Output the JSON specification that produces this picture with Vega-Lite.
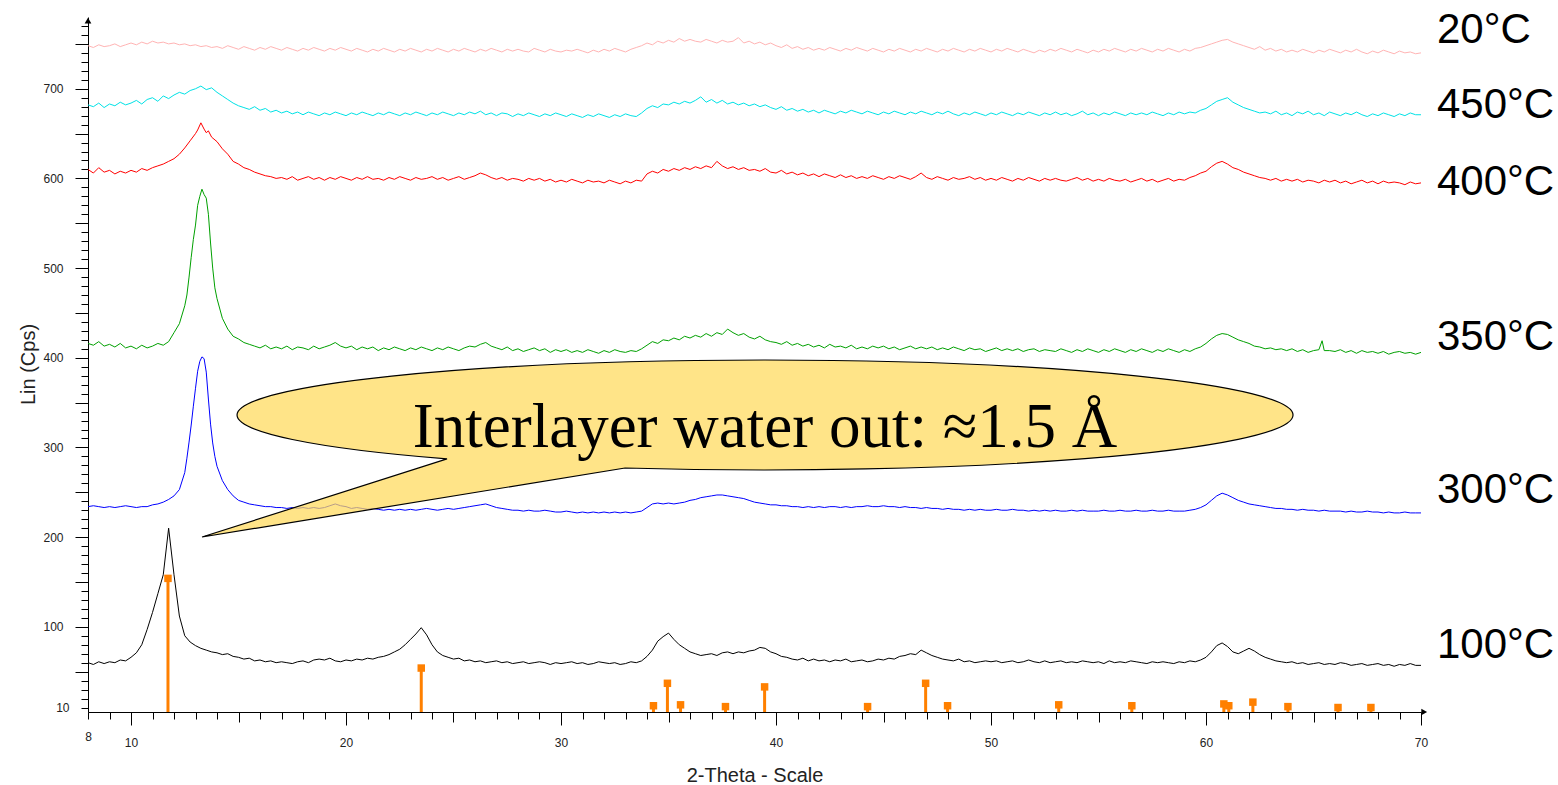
{
  "$schema": "https://vega.github.io/schema/vega-lite/v6.json",
  "width": 1333,
  "height": 695,
  "autosize": {"type": "none"},
  "padding": {"left": 88, "top": 17, "right": 137, "bottom": 73},
  "background": "white",
  "config": {"view": {"stroke": null}},
  "datasets": {
    "d20": [{"x":8,"y":748},{"x":8.25,"y":746},{"x":8.5,"y":749},{"x":8.75,"y":747},{"x":9,"y":748},{"x":9.25,"y":750},{"x":9.5,"y":747},{"x":9.75,"y":749},{"x":10,"y":751},{"x":10.25,"y":749},{"x":10.5,"y":752},{"x":10.75,"y":750},{"x":11,"y":753},{"x":11.25,"y":751},{"x":11.5,"y":752},{"x":11.75,"y":750},{"x":12,"y":751},{"x":12.25,"y":749},{"x":12.5,"y":750},{"x":12.75,"y":748},{"x":13,"y":749},{"x":13.25,"y":747},{"x":13.5,"y":748},{"x":13.75,"y":746},{"x":14,"y":747},{"x":14.25,"y":745},{"x":14.5,"y":748},{"x":14.75,"y":746},{"x":15,"y":744},{"x":15.25,"y":747},{"x":15.5,"y":745},{"x":15.75,"y":743},{"x":16,"y":746},{"x":16.25,"y":744},{"x":16.5,"y":747},{"x":16.75,"y":745},{"x":17,"y":743},{"x":17.25,"y":746},{"x":17.5,"y":744},{"x":17.75,"y":742},{"x":18,"y":745},{"x":18.25,"y":743},{"x":18.5,"y":746},{"x":18.75,"y":744},{"x":19,"y":742},{"x":19.25,"y":745},{"x":19.5,"y":743},{"x":19.75,"y":746},{"x":20,"y":744},{"x":20.25,"y":742},{"x":20.5,"y":745},{"x":20.75,"y":743},{"x":21,"y":741},{"x":21.25,"y":744},{"x":21.5,"y":742},{"x":21.75,"y":745},{"x":22,"y":743},{"x":22.25,"y":741},{"x":22.5,"y":744},{"x":22.75,"y":742},{"x":23,"y":745},{"x":23.25,"y":743},{"x":23.5,"y":741},{"x":23.75,"y":744},{"x":24,"y":742},{"x":24.25,"y":745},{"x":24.5,"y":743},{"x":24.75,"y":741},{"x":25,"y":744},{"x":25.25,"y":742},{"x":25.5,"y":745},{"x":25.75,"y":743},{"x":26,"y":741},{"x":26.25,"y":744},{"x":26.5,"y":742},{"x":26.75,"y":745},{"x":27,"y":743},{"x":27.25,"y":741},{"x":27.5,"y":744},{"x":27.75,"y":742},{"x":28,"y":744},{"x":28.25,"y":742},{"x":28.5,"y":741},{"x":28.75,"y":745},{"x":29,"y":743},{"x":29.25,"y":741},{"x":29.5,"y":744},{"x":29.75,"y":742},{"x":30,"y":741},{"x":30.25,"y":743},{"x":30.5,"y":742},{"x":30.75,"y":744},{"x":31,"y":742},{"x":31.25,"y":740},{"x":31.5,"y":743},{"x":31.75,"y":741},{"x":32,"y":744},{"x":32.25,"y":742},{"x":32.5,"y":745},{"x":32.75,"y":743},{"x":33,"y":741},{"x":33.25,"y":744},{"x":33.5,"y":746},{"x":33.75,"y":748},{"x":34,"y":751},{"x":34.25,"y":749},{"x":34.5,"y":753},{"x":34.75,"y":751},{"x":35,"y":754},{"x":35.25,"y":752},{"x":35.5,"y":756},{"x":35.75,"y":753},{"x":36,"y":755},{"x":36.25,"y":753},{"x":36.5,"y":752},{"x":36.75,"y":755},{"x":37,"y":753},{"x":37.25,"y":751},{"x":37.5,"y":754},{"x":37.75,"y":752},{"x":38,"y":753},{"x":38.25,"y":757},{"x":38.5,"y":751},{"x":38.75,"y":753},{"x":39,"y":750},{"x":39.25,"y":752},{"x":39.5,"y":749},{"x":39.75,"y":751},{"x":40,"y":748},{"x":40.25,"y":746},{"x":40.5,"y":749},{"x":40.75,"y":745},{"x":41,"y":747},{"x":41.25,"y":744},{"x":41.5,"y":746},{"x":41.75,"y":743},{"x":42,"y":745},{"x":42.25,"y":743},{"x":42.5,"y":746},{"x":42.75,"y":744},{"x":43,"y":742},{"x":43.25,"y":745},{"x":43.5,"y":743},{"x":43.75,"y":746},{"x":44,"y":744},{"x":44.25,"y":742},{"x":44.5,"y":745},{"x":44.75,"y":743},{"x":45,"y":741},{"x":45.25,"y":744},{"x":45.5,"y":742},{"x":45.75,"y":745},{"x":46,"y":743},{"x":46.25,"y":741},{"x":46.5,"y":744},{"x":46.75,"y":742},{"x":47,"y":745},{"x":47.25,"y":743},{"x":47.5,"y":741},{"x":47.75,"y":744},{"x":48,"y":742},{"x":48.25,"y":745},{"x":48.5,"y":743},{"x":48.75,"y":741},{"x":49,"y":744},{"x":49.25,"y":742},{"x":49.5,"y":745},{"x":49.75,"y":743},{"x":50,"y":741},{"x":50.25,"y":744},{"x":50.5,"y":742},{"x":50.75,"y":745},{"x":51,"y":743},{"x":51.25,"y":741},{"x":51.5,"y":744},{"x":51.75,"y":742},{"x":52,"y":740},{"x":52.25,"y":743},{"x":52.5,"y":741},{"x":52.75,"y":744},{"x":53,"y":742},{"x":53.25,"y":745},{"x":53.5,"y":743},{"x":53.75,"y":741},{"x":54,"y":744},{"x":54.25,"y":742},{"x":54.5,"y":740},{"x":54.75,"y":743},{"x":55,"y":741},{"x":55.25,"y":744},{"x":55.5,"y":742},{"x":55.75,"y":745},{"x":56,"y":743},{"x":56.25,"y":741},{"x":56.5,"y":744},{"x":56.75,"y":742},{"x":57,"y":745},{"x":57.25,"y":743},{"x":57.5,"y":741},{"x":57.75,"y":744},{"x":58,"y":742},{"x":58.25,"y":745},{"x":58.5,"y":743},{"x":58.75,"y":741},{"x":59,"y":744},{"x":59.25,"y":742},{"x":59.5,"y":745},{"x":59.75,"y":746},{"x":60,"y":748},{"x":60.25,"y":750},{"x":60.5,"y":752},{"x":60.75,"y":754},{"x":61,"y":755},{"x":61.25,"y":752},{"x":61.5,"y":750},{"x":61.75,"y":748},{"x":62,"y":746},{"x":62.25,"y":744},{"x":62.5,"y":747},{"x":62.75,"y":743},{"x":63,"y":745},{"x":63.25,"y":742},{"x":63.5,"y":744},{"x":63.75,"y":741},{"x":64,"y":743},{"x":64.25,"y":741},{"x":64.5,"y":744},{"x":64.75,"y":742},{"x":65,"y":740},{"x":65.25,"y":743},{"x":65.5,"y":741},{"x":65.75,"y":744},{"x":66,"y":742},{"x":66.25,"y":740},{"x":66.5,"y":743},{"x":66.75,"y":741},{"x":67,"y":744},{"x":67.25,"y":741},{"x":67.5,"y":739},{"x":67.75,"y":742},{"x":68,"y":740},{"x":68.25,"y":743},{"x":68.5,"y":741},{"x":68.75,"y":739},{"x":69,"y":742},{"x":69.25,"y":740},{"x":69.5,"y":741},{"x":69.75,"y":739},{"x":70,"y":740}],
    "d450": [{"x":8,"y":682},{"x":8.25,"y":680},{"x":8.5,"y":684},{"x":8.75,"y":679},{"x":9,"y":683},{"x":9.25,"y":681},{"x":9.5,"y":685},{"x":9.75,"y":682},{"x":10,"y":684},{"x":10.25,"y":687},{"x":10.5,"y":683},{"x":10.75,"y":688},{"x":11,"y":690},{"x":11.25,"y":686},{"x":11.5,"y":692},{"x":11.75,"y":689},{"x":12,"y":693},{"x":12.25,"y":696},{"x":12.5,"y":694},{"x":12.75,"y":698},{"x":13,"y":700},{"x":13.25,"y":703},{"x":13.5,"y":699},{"x":13.75,"y":701},{"x":14,"y":696},{"x":14.25,"y":692},{"x":14.5,"y":688},{"x":14.75,"y":684},{"x":15,"y":681},{"x":15.25,"y":679},{"x":15.5,"y":677},{"x":15.75,"y":680},{"x":16,"y":676},{"x":16.25,"y":678},{"x":16.5,"y":674},{"x":16.75,"y":676},{"x":17,"y":673},{"x":17.25,"y":675},{"x":17.5,"y":672},{"x":17.75,"y":674},{"x":18,"y":671},{"x":18.25,"y":674},{"x":18.5,"y":672},{"x":18.75,"y":670},{"x":19,"y":673},{"x":19.25,"y":671},{"x":19.5,"y":674},{"x":19.75,"y":672},{"x":20,"y":670},{"x":20.25,"y":673},{"x":20.5,"y":671},{"x":20.75,"y":674},{"x":21,"y":672},{"x":21.25,"y":670},{"x":21.5,"y":673},{"x":21.75,"y":671},{"x":22,"y":674},{"x":22.25,"y":672},{"x":22.5,"y":670},{"x":22.75,"y":673},{"x":23,"y":671},{"x":23.25,"y":674},{"x":23.5,"y":672},{"x":23.75,"y":670},{"x":24,"y":673},{"x":24.25,"y":671},{"x":24.5,"y":674},{"x":24.75,"y":672},{"x":25,"y":670},{"x":25.25,"y":673},{"x":25.5,"y":671},{"x":25.75,"y":674},{"x":26,"y":672},{"x":26.25,"y":675},{"x":26.5,"y":671},{"x":26.75,"y":673},{"x":27,"y":670},{"x":27.25,"y":673},{"x":27.5,"y":672},{"x":27.75,"y":669},{"x":28,"y":672},{"x":28.25,"y":670},{"x":28.5,"y":673},{"x":28.75,"y":671},{"x":29,"y":669},{"x":29.25,"y":672},{"x":29.5,"y":670},{"x":29.75,"y":673},{"x":30,"y":671},{"x":30.25,"y":669},{"x":30.5,"y":672},{"x":30.75,"y":670},{"x":31,"y":668},{"x":31.25,"y":671},{"x":31.5,"y":669},{"x":31.75,"y":672},{"x":32,"y":670},{"x":32.25,"y":668},{"x":32.5,"y":671},{"x":32.75,"y":669},{"x":33,"y":672},{"x":33.25,"y":670},{"x":33.5,"y":669},{"x":33.75,"y":673},{"x":34,"y":678},{"x":34.25,"y":681},{"x":34.5,"y":679},{"x":34.75,"y":683},{"x":35,"y":682},{"x":35.25,"y":685},{"x":35.5,"y":683},{"x":35.75,"y":686},{"x":36,"y":684},{"x":36.25,"y":687},{"x":36.5,"y":691},{"x":36.75,"y":685},{"x":37,"y":688},{"x":37.25,"y":684},{"x":37.5,"y":687},{"x":37.75,"y":683},{"x":38,"y":685},{"x":38.25,"y":682},{"x":38.5,"y":684},{"x":38.75,"y":681},{"x":39,"y":683},{"x":39.25,"y":680},{"x":39.5,"y":682},{"x":39.75,"y":679},{"x":40,"y":677},{"x":40.25,"y":680},{"x":40.5,"y":676},{"x":40.75,"y":678},{"x":41,"y":675},{"x":41.25,"y":677},{"x":41.5,"y":674},{"x":41.75,"y":676},{"x":42,"y":673},{"x":42.25,"y":676},{"x":42.5,"y":674},{"x":42.75,"y":672},{"x":43,"y":675},{"x":43.25,"y":673},{"x":43.5,"y":676},{"x":43.75,"y":674},{"x":44,"y":672},{"x":44.25,"y":675},{"x":44.5,"y":673},{"x":44.75,"y":671},{"x":45,"y":674},{"x":45.25,"y":672},{"x":45.5,"y":675},{"x":45.75,"y":673},{"x":46,"y":671},{"x":46.25,"y":674},{"x":46.5,"y":672},{"x":46.75,"y":675},{"x":47,"y":673},{"x":47.25,"y":671},{"x":47.5,"y":674},{"x":47.75,"y":672},{"x":48,"y":675},{"x":48.25,"y":672},{"x":48.5,"y":670},{"x":48.75,"y":673},{"x":49,"y":671},{"x":49.25,"y":674},{"x":49.5,"y":672},{"x":49.75,"y":670},{"x":50,"y":673},{"x":50.25,"y":671},{"x":50.5,"y":674},{"x":50.75,"y":672},{"x":51,"y":670},{"x":51.25,"y":673},{"x":51.5,"y":671},{"x":51.75,"y":674},{"x":52,"y":672},{"x":52.25,"y":670},{"x":52.5,"y":673},{"x":52.75,"y":671},{"x":53,"y":674},{"x":53.25,"y":671},{"x":53.5,"y":673},{"x":53.75,"y":670},{"x":54,"y":672},{"x":54.25,"y":675},{"x":54.5,"y":671},{"x":54.75,"y":673},{"x":55,"y":670},{"x":55.25,"y":673},{"x":55.5,"y":671},{"x":55.75,"y":674},{"x":56,"y":672},{"x":56.25,"y":670},{"x":56.5,"y":673},{"x":56.75,"y":671},{"x":57,"y":673},{"x":57.25,"y":671},{"x":57.5,"y":674},{"x":57.75,"y":672},{"x":58,"y":670},{"x":58.25,"y":673},{"x":58.5,"y":671},{"x":58.75,"y":674},{"x":59,"y":672},{"x":59.25,"y":674},{"x":59.5,"y":673},{"x":59.75,"y":676},{"x":60,"y":678},{"x":60.25,"y":682},{"x":60.5,"y":686},{"x":60.75,"y":688},{"x":61,"y":690},{"x":61.25,"y":685},{"x":61.5,"y":682},{"x":61.75,"y":679},{"x":62,"y":677},{"x":62.25,"y":675},{"x":62.5,"y":673},{"x":62.75,"y":674},{"x":63,"y":672},{"x":63.25,"y":675},{"x":63.5,"y":671},{"x":63.75,"y":673},{"x":64,"y":670},{"x":64.25,"y":674},{"x":64.5,"y":672},{"x":64.75,"y":675},{"x":65,"y":671},{"x":65.25,"y":673},{"x":65.5,"y":670},{"x":65.75,"y":674},{"x":66,"y":672},{"x":66.25,"y":670},{"x":66.5,"y":673},{"x":66.75,"y":671},{"x":67,"y":674},{"x":67.25,"y":671},{"x":67.5,"y":669},{"x":67.75,"y":672},{"x":68,"y":670},{"x":68.25,"y":673},{"x":68.5,"y":671},{"x":68.75,"y":669},{"x":69,"y":672},{"x":69.25,"y":670},{"x":69.5,"y":673},{"x":69.75,"y":671},{"x":70,"y":671}],
    "d400": [{"x":8,"y":610},{"x":8.25,"y":606},{"x":8.5,"y":612},{"x":8.75,"y":607},{"x":9,"y":609},{"x":9.25,"y":605},{"x":9.5,"y":608},{"x":9.75,"y":606},{"x":10,"y":609},{"x":10.25,"y":607},{"x":10.5,"y":611},{"x":10.75,"y":609},{"x":11,"y":612},{"x":11.25,"y":614},{"x":11.5,"y":616},{"x":11.75,"y":619},{"x":12,"y":622},{"x":12.25,"y":627},{"x":12.5,"y":634},{"x":12.75,"y":642},{"x":13,"y":650},{"x":13.1,"y":654},{"x":13.25,"y":662},{"x":13.4,"y":655},{"x":13.5,"y":651},{"x":13.6,"y":653},{"x":13.75,"y":646},{"x":14,"y":641},{"x":14.25,"y":633},{"x":14.5,"y":627},{"x":14.75,"y":619},{"x":15,"y":616},{"x":15.25,"y":612},{"x":15.5,"y":610},{"x":15.75,"y":607},{"x":16,"y":605},{"x":16.25,"y":603},{"x":16.5,"y":602},{"x":16.75,"y":600},{"x":17,"y":601},{"x":17.25,"y":599},{"x":17.5,"y":602},{"x":17.75,"y":598},{"x":18,"y":600},{"x":18.25,"y":602},{"x":18.5,"y":599},{"x":18.75,"y":601},{"x":19,"y":598},{"x":19.25,"y":601},{"x":19.5,"y":599},{"x":19.75,"y":602},{"x":20,"y":600},{"x":20.25,"y":598},{"x":20.5,"y":601},{"x":20.75,"y":599},{"x":21,"y":602},{"x":21.25,"y":599},{"x":21.5,"y":600},{"x":21.75,"y":598},{"x":22,"y":601},{"x":22.25,"y":599},{"x":22.5,"y":602},{"x":22.75,"y":600},{"x":23,"y":598},{"x":23.25,"y":601},{"x":23.5,"y":599},{"x":23.75,"y":600},{"x":24,"y":602},{"x":24.25,"y":599},{"x":24.5,"y":601},{"x":24.75,"y":598},{"x":25,"y":600},{"x":25.25,"y":602},{"x":25.5,"y":599},{"x":25.75,"y":601},{"x":26,"y":603},{"x":26.25,"y":606},{"x":26.5,"y":604},{"x":26.75,"y":601},{"x":27,"y":599},{"x":27.25,"y":601},{"x":27.5,"y":598},{"x":27.75,"y":600},{"x":28,"y":599},{"x":28.25,"y":597},{"x":28.5,"y":600},{"x":28.75,"y":598},{"x":29,"y":600},{"x":29.25,"y":597},{"x":29.5,"y":599},{"x":29.75,"y":596},{"x":30,"y":598},{"x":30.25,"y":596},{"x":30.5,"y":599},{"x":30.75,"y":597},{"x":31,"y":595},{"x":31.25,"y":598},{"x":31.5,"y":596},{"x":31.75,"y":597},{"x":32,"y":595},{"x":32.25,"y":598},{"x":32.5,"y":596},{"x":32.75,"y":594},{"x":33,"y":597},{"x":33.25,"y":595},{"x":33.5,"y":598},{"x":33.75,"y":597},{"x":34,"y":605},{"x":34.25,"y":608},{"x":34.5,"y":606},{"x":34.75,"y":610},{"x":35,"y":608},{"x":35.25,"y":611},{"x":35.5,"y":609},{"x":35.75,"y":612},{"x":36,"y":610},{"x":36.25,"y":613},{"x":36.5,"y":611},{"x":36.75,"y":614},{"x":37,"y":612},{"x":37.25,"y":619},{"x":37.5,"y":614},{"x":37.75,"y":611},{"x":38,"y":613},{"x":38.25,"y":610},{"x":38.5,"y":612},{"x":38.75,"y":609},{"x":39,"y":610},{"x":39.25,"y":608},{"x":39.5,"y":611},{"x":39.75,"y":607},{"x":40,"y":606},{"x":40.25,"y":609},{"x":40.5,"y":605},{"x":40.75,"y":607},{"x":41,"y":604},{"x":41.25,"y":606},{"x":41.5,"y":603},{"x":41.75,"y":605},{"x":42,"y":602},{"x":42.25,"y":605},{"x":42.5,"y":603},{"x":42.75,"y":601},{"x":43,"y":604},{"x":43.25,"y":601},{"x":43.5,"y":603},{"x":43.75,"y":600},{"x":44,"y":602},{"x":44.25,"y":600},{"x":44.5,"y":603},{"x":44.75,"y":601},{"x":45,"y":599},{"x":45.25,"y":602},{"x":45.5,"y":600},{"x":45.75,"y":603},{"x":46,"y":601},{"x":46.25,"y":599},{"x":46.5,"y":602},{"x":46.75,"y":606},{"x":47,"y":601},{"x":47.25,"y":599},{"x":47.5,"y":602},{"x":47.75,"y":600},{"x":48,"y":598},{"x":48.25,"y":601},{"x":48.5,"y":599},{"x":48.75,"y":600},{"x":49,"y":602},{"x":49.25,"y":599},{"x":49.5,"y":601},{"x":49.75,"y":598},{"x":50,"y":600},{"x":50.25,"y":598},{"x":50.5,"y":601},{"x":50.75,"y":599},{"x":51,"y":597},{"x":51.25,"y":600},{"x":51.5,"y":598},{"x":51.75,"y":601},{"x":52,"y":599},{"x":52.25,"y":597},{"x":52.5,"y":600},{"x":52.75,"y":598},{"x":53,"y":600},{"x":53.25,"y":598},{"x":53.5,"y":597},{"x":53.75,"y":599},{"x":54,"y":601},{"x":54.25,"y":598},{"x":54.5,"y":600},{"x":54.75,"y":597},{"x":55,"y":599},{"x":55.25,"y":597},{"x":55.5,"y":600},{"x":55.75,"y":598},{"x":56,"y":597},{"x":56.25,"y":599},{"x":56.5,"y":596},{"x":56.75,"y":598},{"x":57,"y":600},{"x":57.25,"y":597},{"x":57.5,"y":599},{"x":57.75,"y":596},{"x":58,"y":598},{"x":58.25,"y":600},{"x":58.5,"y":597},{"x":58.75,"y":599},{"x":59,"y":598},{"x":59.25,"y":601},{"x":59.5,"y":603},{"x":59.75,"y":606},{"x":60,"y":608},{"x":60.25,"y":613},{"x":60.5,"y":617},{"x":60.75,"y":619},{"x":61,"y":616},{"x":61.25,"y":612},{"x":61.5,"y":610},{"x":61.75,"y":607},{"x":62,"y":605},{"x":62.25,"y":603},{"x":62.5,"y":601},{"x":62.75,"y":600},{"x":63,"y":598},{"x":63.25,"y":600},{"x":63.5,"y":597},{"x":63.75,"y":599},{"x":64,"y":597},{"x":64.25,"y":599},{"x":64.5,"y":596},{"x":64.75,"y":598},{"x":65,"y":597},{"x":65.25,"y":595},{"x":65.5,"y":598},{"x":65.75,"y":596},{"x":66,"y":598},{"x":66.25,"y":595},{"x":66.5,"y":597},{"x":66.75,"y":594},{"x":67,"y":596},{"x":67.25,"y":598},{"x":67.5,"y":595},{"x":67.75,"y":597},{"x":68,"y":594},{"x":68.25,"y":597},{"x":68.5,"y":595},{"x":68.75,"y":596},{"x":69,"y":595},{"x":69.25,"y":593},{"x":69.5,"y":596},{"x":69.75,"y":594},{"x":70,"y":595}],
    "d350": [{"x":8,"y":416},{"x":8.25,"y":414},{"x":8.5,"y":418},{"x":8.75,"y":413},{"x":9,"y":415},{"x":9.25,"y":412},{"x":9.5,"y":416},{"x":9.75,"y":411},{"x":10,"y":413},{"x":10.25,"y":410},{"x":10.5,"y":414},{"x":10.75,"y":411},{"x":11,"y":413},{"x":11.25,"y":416},{"x":11.5,"y":414},{"x":11.75,"y":418},{"x":12,"y":428},{"x":12.25,"y":438},{"x":12.5,"y":458},{"x":12.6,"y":470},{"x":12.7,"y":490},{"x":12.8,"y":512},{"x":12.9,"y":532},{"x":13,"y":548},{"x":13.1,"y":570},{"x":13.2,"y":580},{"x":13.3,"y":588},{"x":13.4,"y":582},{"x":13.5,"y":578},{"x":13.6,"y":560},{"x":13.7,"y":528},{"x":13.8,"y":500},{"x":13.9,"y":478},{"x":14,"y":466},{"x":14.25,"y":444},{"x":14.5,"y":432},{"x":14.75,"y":424},{"x":15,"y":421},{"x":15.25,"y":417},{"x":15.5,"y":415},{"x":15.75,"y":413},{"x":16,"y":411},{"x":16.25,"y":414},{"x":16.5,"y":410},{"x":16.75,"y":412},{"x":17,"y":410},{"x":17.25,"y":413},{"x":17.5,"y":409},{"x":17.75,"y":412},{"x":18,"y":411},{"x":18.25,"y":409},{"x":18.5,"y":413},{"x":18.75,"y":410},{"x":19,"y":412},{"x":19.25,"y":414},{"x":19.5,"y":417},{"x":19.75,"y":413},{"x":20,"y":411},{"x":20.25,"y":413},{"x":20.5,"y":409},{"x":20.75,"y":412},{"x":21,"y":410},{"x":21.25,"y":412},{"x":21.5,"y":408},{"x":21.75,"y":411},{"x":22,"y":409},{"x":22.25,"y":412},{"x":22.5,"y":410},{"x":22.75,"y":408},{"x":23,"y":411},{"x":23.25,"y":409},{"x":23.5,"y":412},{"x":23.75,"y":410},{"x":24,"y":408},{"x":24.25,"y":411},{"x":24.5,"y":409},{"x":24.75,"y":412},{"x":25,"y":410},{"x":25.25,"y":408},{"x":25.5,"y":411},{"x":25.75,"y":413},{"x":26,"y":412},{"x":26.25,"y":415},{"x":26.5,"y":417},{"x":26.75,"y":413},{"x":27,"y":411},{"x":27.25,"y":409},{"x":27.5,"y":412},{"x":27.75,"y":408},{"x":28,"y":410},{"x":28.25,"y":407},{"x":28.5,"y":409},{"x":28.75,"y":411},{"x":29,"y":408},{"x":29.25,"y":410},{"x":29.5,"y":406},{"x":29.75,"y":409},{"x":30,"y":407},{"x":30.25,"y":409},{"x":30.5,"y":406},{"x":30.75,"y":408},{"x":31,"y":406},{"x":31.25,"y":409},{"x":31.5,"y":407},{"x":31.75,"y":405},{"x":32,"y":408},{"x":32.25,"y":406},{"x":32.5,"y":409},{"x":32.75,"y":407},{"x":33,"y":406},{"x":33.25,"y":408},{"x":33.5,"y":407},{"x":33.75,"y":410},{"x":34,"y":414},{"x":34.25,"y":418},{"x":34.5,"y":416},{"x":34.75,"y":420},{"x":35,"y":419},{"x":35.25,"y":422},{"x":35.5,"y":420},{"x":35.75,"y":424},{"x":36,"y":422},{"x":36.25,"y":425},{"x":36.5,"y":423},{"x":36.75,"y":427},{"x":37,"y":424},{"x":37.25,"y":428},{"x":37.5,"y":426},{"x":37.75,"y":432},{"x":38,"y":428},{"x":38.25,"y":425},{"x":38.5,"y":427},{"x":38.75,"y":423},{"x":39,"y":421},{"x":39.25,"y":424},{"x":39.5,"y":420},{"x":39.75,"y":418},{"x":40,"y":417},{"x":40.25,"y":415},{"x":40.5,"y":418},{"x":40.75,"y":414},{"x":41,"y":416},{"x":41.25,"y":413},{"x":41.5,"y":415},{"x":41.75,"y":412},{"x":42,"y":414},{"x":42.25,"y":411},{"x":42.5,"y":415},{"x":42.75,"y":412},{"x":43,"y":413},{"x":43.25,"y":411},{"x":43.5,"y":414},{"x":43.75,"y":410},{"x":44,"y":412},{"x":44.25,"y":410},{"x":44.5,"y":413},{"x":44.75,"y":411},{"x":45,"y":413},{"x":45.25,"y":410},{"x":45.5,"y":412},{"x":45.75,"y":409},{"x":46,"y":411},{"x":46.25,"y":413},{"x":46.5,"y":410},{"x":46.75,"y":412},{"x":47,"y":410},{"x":47.25,"y":412},{"x":47.5,"y":409},{"x":47.75,"y":411},{"x":48,"y":409},{"x":48.25,"y":412},{"x":48.5,"y":410},{"x":48.75,"y":408},{"x":49,"y":411},{"x":49.25,"y":409},{"x":49.5,"y":410},{"x":49.75,"y":407},{"x":50,"y":409},{"x":50.25,"y":411},{"x":50.5,"y":408},{"x":50.75,"y":410},{"x":51,"y":408},{"x":51.25,"y":410},{"x":51.5,"y":407},{"x":51.75,"y":409},{"x":52,"y":410},{"x":52.25,"y":407},{"x":52.5,"y":409},{"x":52.75,"y":408},{"x":53,"y":407},{"x":53.25,"y":410},{"x":53.5,"y":408},{"x":53.75,"y":406},{"x":54,"y":409},{"x":54.25,"y":407},{"x":54.5,"y":410},{"x":54.75,"y":408},{"x":55,"y":406},{"x":55.25,"y":409},{"x":55.5,"y":407},{"x":55.75,"y":410},{"x":56,"y":408},{"x":56.25,"y":406},{"x":56.5,"y":409},{"x":56.75,"y":407},{"x":57,"y":410},{"x":57.25,"y":408},{"x":57.5,"y":406},{"x":57.75,"y":409},{"x":58,"y":407},{"x":58.25,"y":410},{"x":58.5,"y":408},{"x":58.75,"y":406},{"x":59,"y":409},{"x":59.25,"y":407},{"x":59.5,"y":410},{"x":59.75,"y":412},{"x":60,"y":416},{"x":60.25,"y":421},{"x":60.5,"y":425},{"x":60.75,"y":427},{"x":61,"y":426},{"x":61.25,"y":423},{"x":61.5,"y":420},{"x":61.75,"y":418},{"x":62,"y":416},{"x":62.25,"y":413},{"x":62.5,"y":412},{"x":62.75,"y":410},{"x":63,"y":411},{"x":63.25,"y":409},{"x":63.5,"y":410},{"x":63.75,"y":408},{"x":64,"y":410},{"x":64.25,"y":407},{"x":64.5,"y":409},{"x":64.75,"y":406},{"x":65,"y":408},{"x":65.25,"y":409},{"x":65.4,"y":419},{"x":65.5,"y":408},{"x":65.75,"y":408},{"x":66,"y":407},{"x":66.25,"y":409},{"x":66.5,"y":406},{"x":66.75,"y":408},{"x":67,"y":405},{"x":67.25,"y":408},{"x":67.5,"y":406},{"x":67.75,"y":407},{"x":68,"y":405},{"x":68.25,"y":407},{"x":68.5,"y":404},{"x":68.75,"y":406},{"x":69,"y":407},{"x":69.25,"y":405},{"x":69.5,"y":406},{"x":69.75,"y":404},{"x":70,"y":406}],
    "d300": [{"x":8,"y":234},{"x":8.25,"y":235},{"x":8.5,"y":234},{"x":8.75,"y":233},{"x":9,"y":234},{"x":9.25,"y":233},{"x":9.5,"y":234},{"x":9.75,"y":235},{"x":10,"y":234},{"x":10.25,"y":233},{"x":10.5,"y":234},{"x":10.75,"y":234},{"x":11,"y":236},{"x":11.25,"y":237},{"x":11.5,"y":239},{"x":11.75,"y":242},{"x":12,"y":246},{"x":12.25,"y":253},{"x":12.5,"y":272},{"x":12.6,"y":288},{"x":12.7,"y":306},{"x":12.8,"y":325},{"x":12.9,"y":346},{"x":13,"y":366},{"x":13.1,"y":385},{"x":13.2,"y":396},{"x":13.3,"y":401},{"x":13.4,"y":399},{"x":13.5,"y":384},{"x":13.6,"y":354},{"x":13.7,"y":326},{"x":13.8,"y":305},{"x":13.9,"y":290},{"x":14,"y":279},{"x":14.25,"y":263},{"x":14.5,"y":253},{"x":14.75,"y":246},{"x":15,"y":241},{"x":15.25,"y":239},{"x":15.5,"y":237},{"x":15.75,"y":236},{"x":16,"y":235},{"x":16.25,"y":234},{"x":16.5,"y":234},{"x":16.75,"y":233},{"x":17,"y":233},{"x":17.25,"y":232},{"x":17.5,"y":233},{"x":17.75,"y":232},{"x":18,"y":233},{"x":18.25,"y":232},{"x":18.5,"y":233},{"x":18.75,"y":232},{"x":19,"y":233},{"x":19.25,"y":235},{"x":19.5,"y":237},{"x":19.75,"y":235},{"x":20,"y":234},{"x":20.25,"y":232},{"x":20.5,"y":233},{"x":20.75,"y":232},{"x":21,"y":231},{"x":21.25,"y":232},{"x":21.5,"y":231},{"x":21.75,"y":230},{"x":22,"y":231},{"x":22.25,"y":230},{"x":22.5,"y":231},{"x":22.75,"y":230},{"x":23,"y":231},{"x":23.25,"y":230},{"x":23.5,"y":231},{"x":23.75,"y":232},{"x":24,"y":231},{"x":24.25,"y":230},{"x":24.5,"y":231},{"x":24.75,"y":232},{"x":25,"y":231},{"x":25.25,"y":232},{"x":25.5,"y":233},{"x":25.75,"y":234},{"x":26,"y":235},{"x":26.25,"y":236},{"x":26.5,"y":237},{"x":26.75,"y":235},{"x":27,"y":233},{"x":27.25,"y":232},{"x":27.5,"y":231},{"x":27.75,"y":230},{"x":28,"y":230},{"x":28.25,"y":229},{"x":28.5,"y":230},{"x":28.75,"y":229},{"x":29,"y":229},{"x":29.25,"y":230},{"x":29.5,"y":229},{"x":29.75,"y":228},{"x":30,"y":228},{"x":30.25,"y":229},{"x":30.5,"y":228},{"x":30.75,"y":227},{"x":31,"y":228},{"x":31.25,"y":227},{"x":31.5,"y":228},{"x":31.75,"y":227},{"x":32,"y":228},{"x":32.25,"y":227},{"x":32.5,"y":228},{"x":32.75,"y":227},{"x":33,"y":228},{"x":33.25,"y":227},{"x":33.5,"y":228},{"x":33.75,"y":229},{"x":34,"y":233},{"x":34.25,"y":237},{"x":34.5,"y":238},{"x":34.75,"y":237},{"x":35,"y":238},{"x":35.25,"y":237},{"x":35.5,"y":238},{"x":35.75,"y":239},{"x":36,"y":241},{"x":36.25,"y":242},{"x":36.5,"y":244},{"x":36.75,"y":245},{"x":37,"y":246},{"x":37.25,"y":247},{"x":37.5,"y":247},{"x":37.75,"y":246},{"x":38,"y":245},{"x":38.25,"y":244},{"x":38.5,"y":243},{"x":38.75,"y":241},{"x":39,"y":239},{"x":39.25,"y":238},{"x":39.5,"y":237},{"x":39.75,"y":236},{"x":40,"y":236},{"x":40.25,"y":235},{"x":40.5,"y":235},{"x":40.75,"y":234},{"x":41,"y":234},{"x":41.25,"y":233},{"x":41.5,"y":234},{"x":41.75,"y":233},{"x":42,"y":234},{"x":42.25,"y":233},{"x":42.5,"y":234},{"x":42.75,"y":234},{"x":43,"y":233},{"x":43.25,"y":234},{"x":43.5,"y":233},{"x":43.75,"y":234},{"x":44,"y":234},{"x":44.25,"y":235},{"x":44.5,"y":234},{"x":44.75,"y":234},{"x":45,"y":235},{"x":45.25,"y":234},{"x":45.5,"y":234},{"x":45.75,"y":233},{"x":46,"y":234},{"x":46.25,"y":233},{"x":46.5,"y":233},{"x":46.75,"y":232},{"x":47,"y":233},{"x":47.25,"y":232},{"x":47.5,"y":232},{"x":47.75,"y":231},{"x":48,"y":232},{"x":48.25,"y":231},{"x":48.5,"y":231},{"x":48.75,"y":230},{"x":49,"y":231},{"x":49.25,"y":230},{"x":49.5,"y":231},{"x":49.75,"y":230},{"x":50,"y":230},{"x":50.25,"y":231},{"x":50.5,"y":230},{"x":50.75,"y":230},{"x":51,"y":231},{"x":51.25,"y":230},{"x":51.5,"y":230},{"x":51.75,"y":229},{"x":52,"y":230},{"x":52.25,"y":229},{"x":52.5,"y":230},{"x":52.75,"y":229},{"x":53,"y":230},{"x":53.25,"y":229},{"x":53.5,"y":229},{"x":53.75,"y":230},{"x":54,"y":229},{"x":54.25,"y":230},{"x":54.5,"y":229},{"x":54.75,"y":229},{"x":55,"y":229},{"x":55.25,"y":230},{"x":55.5,"y":229},{"x":55.75,"y":229},{"x":56,"y":230},{"x":56.25,"y":229},{"x":56.5,"y":229},{"x":56.75,"y":230},{"x":57,"y":229},{"x":57.25,"y":229},{"x":57.5,"y":230},{"x":57.75,"y":229},{"x":58,"y":229},{"x":58.25,"y":230},{"x":58.5,"y":229},{"x":58.75,"y":229},{"x":59,"y":229},{"x":59.25,"y":230},{"x":59.5,"y":231},{"x":59.75,"y":233},{"x":60,"y":236},{"x":60.25,"y":241},{"x":60.5,"y":246},{"x":60.75,"y":249},{"x":61,"y":247},{"x":61.25,"y":244},{"x":61.5,"y":241},{"x":61.75,"y":239},{"x":62,"y":237},{"x":62.25,"y":236},{"x":62.5,"y":235},{"x":62.75,"y":234},{"x":63,"y":233},{"x":63.25,"y":232},{"x":63.5,"y":232},{"x":63.75,"y":231},{"x":64,"y":231},{"x":64.25,"y":230},{"x":64.5,"y":231},{"x":64.75,"y":230},{"x":65,"y":230},{"x":65.25,"y":229},{"x":65.5,"y":230},{"x":65.75,"y":229},{"x":66,"y":229},{"x":66.25,"y":229},{"x":66.5,"y":228},{"x":66.75,"y":229},{"x":67,"y":228},{"x":67.25,"y":228},{"x":67.5,"y":229},{"x":67.75,"y":228},{"x":68,"y":228},{"x":68.25,"y":227},{"x":68.5,"y":228},{"x":68.75,"y":227},{"x":69,"y":227},{"x":69.25,"y":228},{"x":69.5,"y":227},{"x":69.75,"y":227},{"x":70,"y":227}],
    "d100": [{"x":8,"y":60},{"x":8.25,"y":58},{"x":8.5,"y":61},{"x":8.75,"y":59},{"x":9,"y":61},{"x":9.25,"y":60},{"x":9.5,"y":63},{"x":9.75,"y":62},{"x":10,"y":66},{"x":10.25,"y":71},{"x":10.5,"y":80},{"x":10.75,"y":97},{"x":11,"y":116},{"x":11.25,"y":137},{"x":11.5,"y":158},{"x":11.75,"y":210},{"x":12,"y":158},{"x":12.25,"y":112},{"x":12.5,"y":90},{"x":12.75,"y":83},{"x":13,"y":79},{"x":13.25,"y":76},{"x":13.5,"y":74},{"x":13.75,"y":72},{"x":14,"y":71},{"x":14.25,"y":69},{"x":14.5,"y":70},{"x":14.75,"y":67},{"x":15,"y":66},{"x":15.25,"y":64},{"x":15.5,"y":65},{"x":15.75,"y":62},{"x":16,"y":63},{"x":16.25,"y":61},{"x":16.5,"y":62},{"x":16.75,"y":60},{"x":17,"y":61},{"x":17.25,"y":60},{"x":17.5,"y":59},{"x":17.75,"y":61},{"x":18,"y":62},{"x":18.25,"y":60},{"x":18.5,"y":63},{"x":18.75,"y":64},{"x":19,"y":63},{"x":19.25,"y":65},{"x":19.5,"y":62},{"x":19.75,"y":61},{"x":20,"y":63},{"x":20.25,"y":62},{"x":20.5,"y":64},{"x":20.75,"y":63},{"x":21,"y":65},{"x":21.25,"y":64},{"x":21.5,"y":66},{"x":21.75,"y":67},{"x":22,"y":69},{"x":22.25,"y":72},{"x":22.5,"y":75},{"x":22.75,"y":80},{"x":23,"y":86},{"x":23.25,"y":92},{"x":23.5,"y":99},{"x":23.75,"y":91},{"x":24,"y":80},{"x":24.25,"y":72},{"x":24.5,"y":68},{"x":24.75,"y":66},{"x":25,"y":64},{"x":25.25,"y":65},{"x":25.5,"y":62},{"x":25.75,"y":63},{"x":26,"y":61},{"x":26.25,"y":62},{"x":26.5,"y":60},{"x":26.75,"y":61},{"x":27,"y":62},{"x":27.25,"y":60},{"x":27.5,"y":61},{"x":27.75,"y":59},{"x":28,"y":60},{"x":28.25,"y":61},{"x":28.5,"y":59},{"x":28.75,"y":60},{"x":29,"y":61},{"x":29.25,"y":60},{"x":29.5,"y":58},{"x":29.75,"y":60},{"x":30,"y":59},{"x":30.25,"y":60},{"x":30.5,"y":61},{"x":30.75,"y":59},{"x":31,"y":60},{"x":31.25,"y":58},{"x":31.5,"y":59},{"x":31.75,"y":61},{"x":32,"y":60},{"x":32.25,"y":59},{"x":32.5,"y":60},{"x":32.75,"y":58},{"x":33,"y":59},{"x":33.25,"y":61},{"x":33.5,"y":60},{"x":33.75,"y":62},{"x":34,"y":67},{"x":34.25,"y":74},{"x":34.5,"y":84},{"x":34.75,"y":89},{"x":35,"y":93},{"x":35.25,"y":86},{"x":35.5,"y":80},{"x":35.75,"y":76},{"x":36,"y":72},{"x":36.25,"y":70},{"x":36.5,"y":68},{"x":36.75,"y":69},{"x":37,"y":70},{"x":37.25,"y":68},{"x":37.5,"y":71},{"x":37.75,"y":72},{"x":38,"y":70},{"x":38.25,"y":72},{"x":38.5,"y":71},{"x":38.75,"y":73},{"x":39,"y":74},{"x":39.25,"y":77},{"x":39.5,"y":76},{"x":39.75,"y":72},{"x":40,"y":70},{"x":40.25,"y":67},{"x":40.5,"y":66},{"x":40.75,"y":64},{"x":41,"y":63},{"x":41.25,"y":65},{"x":41.5,"y":62},{"x":41.75,"y":64},{"x":42,"y":62},{"x":42.25,"y":63},{"x":42.5,"y":61},{"x":42.75,"y":63},{"x":43,"y":62},{"x":43.25,"y":64},{"x":43.5,"y":61},{"x":43.75,"y":62},{"x":44,"y":63},{"x":44.25,"y":61},{"x":44.5,"y":62},{"x":44.75,"y":64},{"x":45,"y":63},{"x":45.25,"y":65},{"x":45.5,"y":64},{"x":45.75,"y":67},{"x":46,"y":68},{"x":46.25,"y":70},{"x":46.5,"y":69},{"x":46.75,"y":74},{"x":47,"y":71},{"x":47.25,"y":68},{"x":47.5,"y":66},{"x":47.75,"y":64},{"x":48,"y":63},{"x":48.25,"y":62},{"x":48.5,"y":64},{"x":48.75,"y":61},{"x":49,"y":62},{"x":49.25,"y":60},{"x":49.5,"y":61},{"x":49.75,"y":62},{"x":50,"y":61},{"x":50.25,"y":62},{"x":50.5,"y":60},{"x":50.75,"y":61},{"x":51,"y":62},{"x":51.25,"y":60},{"x":51.5,"y":61},{"x":51.75,"y":63},{"x":52,"y":61},{"x":52.25,"y":60},{"x":52.5,"y":62},{"x":52.75,"y":60},{"x":53,"y":61},{"x":53.25,"y":62},{"x":53.5,"y":60},{"x":53.75,"y":61},{"x":54,"y":60},{"x":54.25,"y":62},{"x":54.5,"y":61},{"x":54.75,"y":60},{"x":55,"y":61},{"x":55.25,"y":59},{"x":55.5,"y":62},{"x":55.75,"y":60},{"x":56,"y":61},{"x":56.25,"y":60},{"x":56.5,"y":62},{"x":56.75,"y":61},{"x":57,"y":60},{"x":57.25,"y":59},{"x":57.5,"y":61},{"x":57.75,"y":60},{"x":58,"y":61},{"x":58.25,"y":60},{"x":58.5,"y":59},{"x":58.75,"y":61},{"x":59,"y":60},{"x":59.25,"y":62},{"x":59.5,"y":61},{"x":59.75,"y":63},{"x":60,"y":66},{"x":60.25,"y":72},{"x":60.5,"y":79},{"x":60.75,"y":82},{"x":61,"y":78},{"x":61.25,"y":72},{"x":61.5,"y":70},{"x":61.75,"y":73},{"x":62,"y":76},{"x":62.25,"y":73},{"x":62.5,"y":69},{"x":62.75,"y":66},{"x":63,"y":64},{"x":63.25,"y":62},{"x":63.5,"y":61},{"x":63.75,"y":60},{"x":64,"y":61},{"x":64.25,"y":59},{"x":64.5,"y":60},{"x":64.75,"y":58},{"x":65,"y":59},{"x":65.25,"y":60},{"x":65.5,"y":58},{"x":65.75,"y":59},{"x":66,"y":58},{"x":66.25,"y":60},{"x":66.5,"y":59},{"x":66.75,"y":57},{"x":67,"y":58},{"x":67.25,"y":59},{"x":67.5,"y":57},{"x":67.75,"y":58},{"x":68,"y":59},{"x":68.25,"y":57},{"x":68.5,"y":58},{"x":68.75,"y":56},{"x":69,"y":58},{"x":69.25,"y":57},{"x":69.5,"y":59},{"x":69.75,"y":57},{"x":70,"y":57}],
    "sticks": [{"x":11.72,"y":154},{"x":23.5,"y":54},{"x":34.3,"y":12},{"x":34.95,"y":37},{"x":35.56,"y":13},{"x":37.65,"y":11},{"x":39.47,"y":33},{"x":44.26,"y":11},{"x":46.96,"y":37},{"x":47.98,"y":12},{"x":53.15,"y":13},{"x":56.55,"y":12},{"x":60.83,"y":14},{"x":61.06,"y":12},{"x":62.18,"y":16},{"x":63.81,"y":11},{"x":66.14,"y":10},{"x":67.67,"y":10}],
    "labels": [{"x":70,"y":751,"t":"20°C"},{"x":70,"y":667,"t":"450°C"},{"x":70,"y":581,"t":"400°C"},{"x":70,"y":409,"t":"350°C"},{"x":70,"y":238,"t":"300°C"},{"x":70,"y":65,"t":"100°C"}],
    "callout": [{"x":39.49,"y":336.2,"ty":300.5,"t":"Interlayer water out: ≈1.5 Å"}]
  },
  "encoding": {
    "x": {
      "field": "x", "type": "quantitative",
      "scale": {"domain": [8, 70], "nice": false, "zero": false},
      "axis": {
        "values": [8,9,10,11,12,13,14,15,16,17,18,19,20,21,22,23,24,25,26,27,28,29,30,31,32,33,34,35,36,37,38,39,40,41,42,43,44,45,46,47,48,49,50,51,52,53,54,55,56,57,58,59,60,61,62,63,64,65,66,67,68,69,70],
        "labelExpr": "datum.value % 10 === 0 || datum.value === 8 ? datum.label : ''",
        "format": "d",
        "title": "2-Theta - Scale",
        "titleFont": "Liberation Sans", "titleFontSize": 20, "titleFontWeight": "normal", "titleColor": "#222",
        "titleY": 63, "titleBaseline": "middle",
        "labelFont": "Liberation Sans", "labelFontSize": 12, "labelColor": "#222",
        "labelPadding": 12, "labelFlush": false, "labelOverlap": false,
        "tickColor": "#000", "tickWidth": 1,
        "tickSize": {"condition": [{"test": "datum.value % 10 === 0", "value": 13}, {"test": "datum.value % 5 === 0", "value": 10}], "value": 7},
        "domainColor": "#000", "domainWidth": 1, "grid": false
      }
    },
    "y": {
      "field": "y", "type": "quantitative",
      "scale": {"domain": [5, 780], "nice": false, "zero": false},
      "axis": {
        "values": [10,20,30,40,50,60,70,80,90,100,110,120,130,140,150,160,170,180,190,200,210,220,230,240,250,260,270,280,290,300,310,320,330,340,350,360,370,380,390,400,410,420,430,440,450,460,470,480,490,500,510,520,530,540,550,560,570,580,590,600,610,620,630,640,650,660,670,680,690,700,710,720,730,740,750,760,770],
        "labelExpr": "datum.value === 10 || datum.value % 100 === 0 ? datum.label : ''",
        "format": "d",
        "title": "Lin (Cps)",
        "titleFont": "Liberation Sans", "titleFontSize": 20, "titleFontWeight": "normal", "titleColor": "#222",
        "titleX": -60, "titleY": 347, "titleAlign": "center", "titleBaseline": "middle", "titleAngle": -90,
        "labelFont": "Liberation Sans", "labelFontSize": 12, "labelColor": "#222",
        "labelPadding": 12, "labelOverlap": false, "labelFlush": false,
        "tickColor": "#000", "tickWidth": 1,
        "tickSize": {"condition": {"test": "datum.value % 50 === 0", "value": 13}, "value": 7},
        "domainColor": "#000", "domainWidth": 1, "grid": false
      }
    }
  },
  "layer": [
    {"data": {"name": "d20"}, "mark": {"type": "line", "color": "#ffb4b4", "strokeWidth": 1}},
    {"data": {"name": "d450"}, "mark": {"type": "line", "color": "#00e2e6", "strokeWidth": 1}},
    {"data": {"name": "d400"}, "mark": {"type": "line", "color": "#ff0000", "strokeWidth": 1}},
    {"data": {"name": "d350"}, "mark": {"type": "line", "color": "#00a000", "strokeWidth": 1}},
    {"data": {"name": "d300"}, "mark": {"type": "line", "color": "#0000ff", "strokeWidth": 1}},
    {"data": {"name": "d100"}, "mark": {"type": "line", "color": "#000000", "strokeWidth": 1}},
    {"data": {"name": "sticks"}, "mark": {"type": "rule", "color": "#ff8000", "strokeWidth": 3}, "encoding": {"y2": {"datum": 5}}},
    {"data": {"name": "sticks"}, "mark": {"type": "point", "shape": "square", "filled": true, "color": "#ff8000", "opacity": 1, "size": 56}},
    {"data": {"name": "callout"}, "mark": {"type": "point", "shape": "M -1 0 A 1 0.10417 0 0 1 1 0 A 1 0.10417 0 0 1 -0.2652 0.1004 L -1.0663 0.2311 L -0.6023 0.0832 A 1 0.10417 0 0 1 -1 0 Z", "size": 1115136, "filled": true, "fill": "#ffd95a", "fillOpacity": 0.72, "stroke": "#000000", "strokeWidth": 1.2, "strokeOpacity": 1, "opacity": 1}},
    {"data": {"name": "callout"}, "mark": {"type": "text", "font": "Liberation Serif", "fontSize": 63, "color": "#000000", "align": "center", "baseline": "alphabetic"}, "encoding": {"y": {"field": "ty", "type": "quantitative"}, "text": {"field": "t"}}},
    {"data": {"name": "labels"}, "mark": {"type": "text", "font": "Liberation Sans", "fontSize": 42, "color": "#000000", "align": "left", "baseline": "alphabetic", "dx": 16}, "encoding": {"text": {"field": "t"}}},
    {"data": {"values": [{"x": 8, "y": 776}]}, "mark": {"type": "point", "shape": "triangle-up", "filled": true, "color": "#000000", "opacity": 1, "size": 45}},
    {"data": {"values": [{"x": 70.15, "y": 5}]}, "mark": {"type": "point", "shape": "triangle-right", "filled": true, "color": "#000000", "opacity": 1, "size": 45}}
  ]
}
